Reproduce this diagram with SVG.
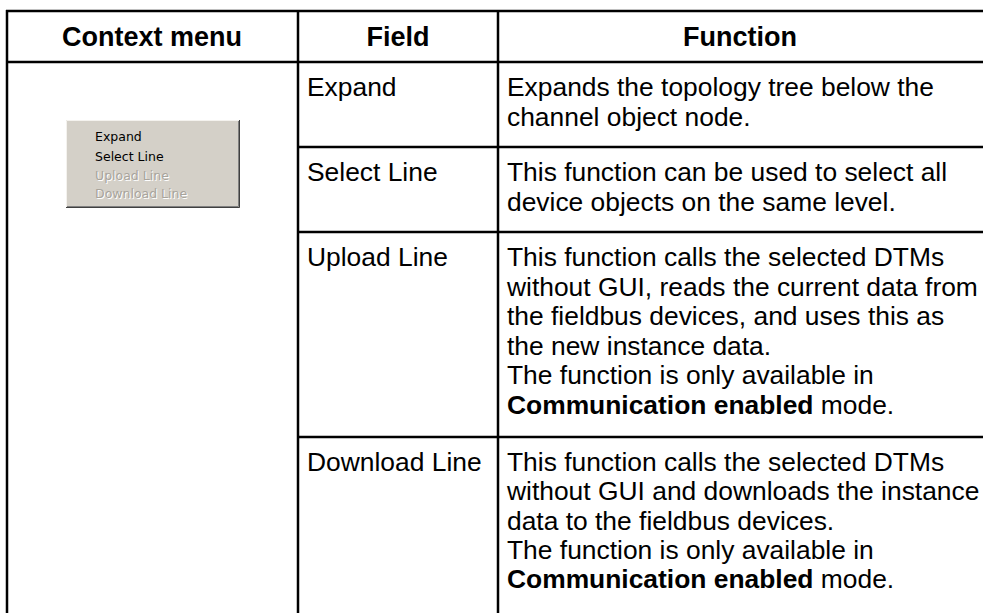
<svg xmlns="http://www.w3.org/2000/svg" width="983" height="613" viewBox="0 0 983 613">
<style>
.t{font-family:"Liberation Sans",Arial,Helvetica,sans-serif;font-size:26.4px;fill:#000}
.h{font-weight:bold;text-anchor:middle;font-size:27px}
.b{font-weight:bold}
.g line{stroke:#000;stroke-width:2.5}
.m{font-family:Tahoma,"DejaVu Sans","Liberation Sans",sans-serif;font-size:12.5px}
.d{fill:#a8a49c}
.s{fill:#ffffff}
</style>
<rect width="983" height="613" fill="#fff"/>
<g id="grid" class="g">
<line x1="6" y1="11" x2="983" y2="11"/>
<line x1="6" y1="62" x2="983" y2="62"/>
<line x1="298" y1="147" x2="983" y2="147"/>
<line x1="298" y1="232" x2="983" y2="232"/>
<line x1="298" y1="437" x2="983" y2="437"/>
<line x1="7" y1="10" x2="7" y2="613"/>
<line x1="298" y1="10" x2="298" y2="613"/>
<line x1="498" y1="10" x2="498" y2="613"/>
</g>
<g id="header">
<text class="t h" x="152" y="46">Context menu</text>
<text class="t h" x="398" y="46">Field</text>
<text class="t h" x="740" y="46">Function</text>
</g>
<g id="menu">
<rect x="66" y="120" width="174" height="88" fill="#d4d0c8"/>
<path d="M66.5 207.5V120.5H239.5" fill="none" stroke="#f4f2ee" stroke-width="1"/>
<path d="M66 207.5H239.5V120" fill="none" stroke="#404040" stroke-width="1"/>
<path d="M67 206.5H238.5V121" fill="none" stroke="#808080" stroke-width="1"/>
<text class="m" x="95" y="141" fill="#000">Expand</text>
<text class="m" x="95" y="161" fill="#000">Select Line</text>
<text class="m s" x="96" y="181">Upload Line</text>
<text class="m d" x="95" y="180">Upload Line</text>
<text class="m s" x="96" y="199">Download Line</text>
<text class="m d" x="95" y="198">Download Line</text>
</g>
<g id="row-expand">
<text class="t" x="307" y="96">Expand</text>
<text class="t" x="507" y="96">Expands the topology tree below the</text>
<text class="t" x="507" y="126">channel object node.</text>
</g>
<g id="row-select">
<text class="t" x="307" y="181">Select Line</text>
<text class="t" x="507" y="181">This function can be used to select all</text>
<text class="t" x="507" y="211">device objects on the same level.</text>
</g>
<g id="row-upload">
<text class="t" x="307" y="266">Upload Line</text>
<text class="t" x="507" y="266">This function calls the selected DTMs</text>
<text class="t" x="507" y="295.5">without GUI, reads the current data from</text>
<text class="t" x="507" y="325">the fieldbus devices, and uses this as</text>
<text class="t" x="507" y="354.5">the new instance data.</text>
<text class="t" x="507" y="384">The function is only available in</text>
<text class="t" x="507" y="413.5"><tspan class="b">Communication enabled</tspan> mode.</text>
</g>
<g id="row-download">
<text class="t" x="307" y="471">Download Line</text>
<text class="t" x="507" y="471">This function calls the selected DTMs</text>
<text class="t" x="507" y="500">without GUI and downloads the instance</text>
<text class="t" x="507" y="529.5">data to the fieldbus devices.</text>
<text class="t" x="507" y="558.5">The function is only available in</text>
<text class="t" x="507" y="588"><tspan class="b">Communication enabled</tspan> mode.</text>
</g>
</svg>
